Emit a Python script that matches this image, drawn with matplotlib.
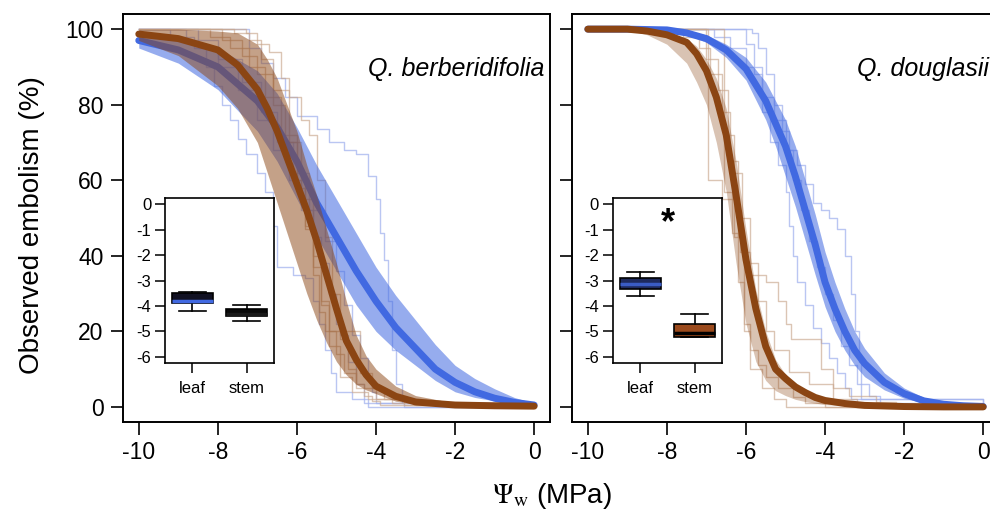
import matplotlib
matplotlib.use("Agg")
import matplotlib.pyplot as plt

plt.rcParams["font.family"] = ["Liberation Sans", "DejaVu Sans"]
plt.rcParams["axes.unicode_minus"] = False
plt.rcParams["mathtext.fontset"] = "stix"

BLUE = "#4169E1"
BROWN = "#8B4513"
LEAF_RUN = "#a3b3ee"
STEM_RUN = "#c9a68c"

# ---- Q. berberidifolia: fitted curves with confidence band ----
psi_ber_leaf = [-10, -9, -8, -7, -6.5, -6, -5.5, -5, -4.5, -4, -3.5, -3, -2.5, -2, -1.5, -1, -0.5, 0]
ber_leaf_fit = [97, 94.5, 90, 81, 74, 65, 54, 45, 36, 28, 21, 15.5, 10, 6.5, 4, 2.3, 1.2, 0.5]
ber_leaf_hi = [99, 98, 95, 89, 83, 74, 64, 55, 46, 37, 29.5, 23, 16.5, 11, 7.5, 4.8, 2.5, 1]
ber_leaf_lo = [95, 91, 84, 73, 65, 55, 45, 36, 27, 20, 15, 11, 7, 4, 2.5, 1.6, 0.8, 0.3]

psi_ber_stem = [-10, -9, -8, -7.5, -7, -6.75, -6.5, -6.25, -6, -5.75, -5.5, -5.25, -5,
                -4.75, -4.5, -4.25, -4, -3.5, -3, -2, -1, 0]
ber_stem_fit = [98.7, 97.5, 94.5, 90.5, 84, 79, 73, 66, 59, 52, 44, 35, 26,
                17.5, 12.5, 8.5, 5.5, 2.8, 1.3, 0.5, 0.3, 0.2]
ber_stem_hi = [100, 100, 99.5, 99, 96, 92, 87, 80, 73, 64, 56, 47, 38,
               28, 19, 13.5, 10, 5.5, 3, 1, 0.5, 0.3]
ber_stem_lo = [97, 93, 85, 79, 70, 62, 54, 46, 38, 30, 23, 17, 12,
               8.5, 6, 4.5, 3.5, 1.5, 0.8, 0.3, 0.2, 0.1]

# individual sample runs (step curves)
ber_leaf_runs = [
    ([-10, -8.5, -8.3, -8.1, -7.9, -7.7, -7.5, -7.3, -7.0, -6.8, -6.6, -6.5, -6.1, -5.8, -5.6, -5.45, -5.3, -5.15, -5.0, -4.6, -4.2, 0],
     [100, 95, 90, 85, 80, 76, 71, 67, 62, 57, 48, 37, 35, 34, 28, 22, 15, 9, 4, 2, 0, 0]),
    ([-10, -7.2, -6.9, -6.6, -6.3, -6.0, -5.5, -5.2, -4.8, -4.5, -4.2, -4.0, -3.9, -3.8, -3.7, -3.6, -3.5, -3.35, 0],
     [100, 95, 91, 87, 82, 77, 73.5, 70, 68, 67, 61, 55, 46, 39, 28, 15, 6, 1, 0]),
    ([-10, -8.8, -8.0, -7.4, -6.9, -6.5, -6.1, -5.7, -5.3, -5.0, -4.8, -4.6, -4.4, -4.2, -4.1, -4.0, -3.3, 0],
     [100, 97, 92, 86, 78, 70, 62, 52, 44, 36, 27, 19, 13, 8, 4, 1, 0, 0]),
    ([-10, -9.2, -8.6, -8.0, -7.5, -7.0, -6.6, -6.2, -5.9, -5.6, -5.4, -5.2, -5.0, -4.9, -4.7, -4.5, -4.3, 0],
     [100, 98, 95, 90, 84, 76, 68, 60, 52, 45, 38, 30, 22, 19, 12, 6, 1, 0]),
]
ber_stem_runs = [
    ([-10, -7.3, -7.0, -6.7, -6.4, -6.2, -5.9, -5.7, -5.5, -5.3, -5.1, -4.9, -4.7, -4.5, -4.3, -4.1, -3.9, 0],
     [100, 99, 96, 94, 87, 82, 76, 72, 60, 45, 30, 18, 10, 6, 3, 1.5, 0.5, 0]),
    ([-10, -8.2, -7.7, -7.2, -6.8, -6.4, -6.0, -5.8, -5.6, -5.45, -5.3, -4.4, -4.1, -3.8, -3.3, 0],
     [100, 98, 95, 90, 82, 72, 60, 48, 35, 25, 20, 9, 5, 2, 0.5, 0]),
    ([-10, -7.9, -7.4, -7.0, -6.6, -6.3, -6.0, -5.8, -5.6, -5.4, -5.2, -5.0, -4.8, -4.5, -4.0, -3.0, 0],
     [100, 97, 93, 88, 80, 70, 58, 47, 37, 28, 20, 14, 9, 5, 2, 0.5, 0]),
    ([-10, -7.6, -7.2, -6.9, -6.6, -6.2, -5.9, -5.6, -5.4, -5.2, -4.9, -4.6, -4.2, -3.6, 0],
     [100, 99, 97, 92, 84, 70, 55, 40, 27, 16, 8, 4, 2, 1, 0]),
]

# ---- Q. douglasii ----
psi_dou_leaf = [-10, -9, -8, -7.5, -7, -6.5, -6, -5.5, -5.25, -5, -4.75, -4.5, -4.25, -4,
                -3.75, -3.5, -3.25, -3, -2.5, -2, -1.5, -1, -0.5, 0]
dou_leaf_fit = [100, 100, 99.8, 99, 97.5, 94.5, 89.5, 81, 75, 69, 61, 52, 43, 33,
                26, 20, 15, 11.5, 6.5, 3.5, 1.6, 0.7, 0.3, 0.1]
dou_leaf_hi = [100, 100, 99.9, 99.5, 98.5, 96, 92.5, 86, 81, 76, 69, 60, 51, 41,
               33, 26, 20, 15.5, 9, 5, 2.5, 1.1, 0.5, 0.2]
dou_leaf_lo = [100, 99.9, 99.5, 98.5, 96.5, 92.5, 86.5, 76, 69, 61, 53, 44, 35, 26.5,
               20, 15, 11, 8, 4.5, 2.3, 1, 0.4, 0.2, 0.05]

psi_dou_stem = [-10, -9, -8.5, -8, -7.5, -7.25, -7, -6.75, -6.5, -6.25, -6, -5.75, -5.5,
                -5.25, -5, -4.75, -4.5, -4.25, -4, -3.5, -3, -2, -1, 0]
dou_stem_fit = [100, 100, 99.5, 98.5, 96.5, 93.5, 89, 82, 72, 56, 39, 26, 16,
                10, 7.5, 5.3, 3.8, 2.5, 1.7, 0.9, 0.4, 0.1, 0, 0]
dou_stem_hi = [100, 100, 99.8, 99, 97.5, 95.5, 92, 87, 79, 65, 47, 31, 20,
               12.5, 8.5, 6, 4.3, 3, 2.2, 1.1, 0.5, 0.1, 0, 0]
dou_stem_lo = [100, 99.8, 98.5, 96, 91, 86, 80, 70, 57, 38, 22, 12, 7,
               4.3, 3, 2, 1.4, 1, 0.6, 0.3, 0.1, 0, 0, 0]

dou_leaf_runs = [
    ([-10, -5.85, -5.7, -5.5, -5.3, -5.1, -4.9, -4.7, -4.5, -4.3, -4.1, -3.9, -3.7, -3.5, -3.35, -3.25, -3.15, -3.1, 0],
     [100, 99, 95, 88, 80, 73, 68, 64, 59, 54, 52, 50, 47, 40, 30, 20, 12, 2, 0]),
    ([-10, -6.0, -5.8, -5.6, -5.4, -5.2, -5.0, -4.9, -4.8, -4.7, -4.5, -4.3, -4.1, -3.9, -3.7, -3.5, -3.35, 0],
     [100, 96, 88, 78, 70, 64, 57, 48, 40, 33, 27, 21, 17, 13, 9, 5, 2, 0]),
    ([-10, -6.8, -6.4, -6.0, -5.6, -5.3, -5.0, -4.8, -4.6, -4.4, -4.2, -4.0, -3.8, -3.6, -3.4, -3.2, -2.9, -2.6, 0],
     [100, 98, 95, 90, 82, 76, 68, 60, 52, 44, 37, 30, 23, 16, 11, 6, 3, 1, 0]),
]
dou_stem_runs = [
    ([-10, -6.95, -6.6, -6.3, -6.15, -5.9, -5.5, -5.2, -5.0, -4.85, -4.1, -3.8, -3.4, -2.7, -2.2, 0],
     [100, 60, 55, 45, 41, 35, 33, 28, 22, 18, 10, 5, 3, 1.3, 0, 0]),
    ([-10, -6.55, -6.35, -6.2, -6.05, -5.9, -5.7, -5.5, -5.2, -4.8, -4.5, -4.0, 0],
     [100, 57, 46, 33, 22, 15, 11, 8, 5, 2.5, 1, 0, 0]),
    ([-10, -7.6, -7.2, -6.9, -6.6, -6.4, -6.2, -6.05, -5.9, -5.6, -5.3, -5.0, 0],
     [100, 98, 95, 88, 78, 65, 45, 20, 10, 5, 2, 0, 0]),
    ([-10, -7.0, -6.7, -6.45, -6.3, -6.1, -5.9, -5.7, -5.5, -5.3, -4.9, -4.4, -3.8, -3.2, 0],
     [100, 92, 84, 72, 62, 50, 38, 28, 20, 15, 9.3, 6, 2, 0, 0]),
]

# ---- inset boxplots: P50 (MPa) ----
box_labels = ["leaf", "stem"]
ber_p50 = [  # whislo, q1, med, q3, whishi
    (-4.2, -3.9, -3.8, -3.5, -3.45),
    (-4.6, -4.4, -4.3, -4.1, -3.95),
]
dou_p50 = [
    (-3.6, -3.35, -3.15, -2.9, -2.65),
    (-5.2, -5.2, -5.05, -4.7, -4.3),
]

fig = plt.figure(figsize=(9.9, 5.18), dpi=100)


def main_panel(rect, leaf, stem, leaf_runs, stem_runs, leaf_alpha, stem_alpha, show_ylabels):
    ax = fig.add_axes(rect)
    for xs, vs in leaf_runs:
        ax.step(xs, vs, where="post", color=LEAF_RUN, lw=1.0, alpha=0.75, zorder=1)
    for xs, vs in stem_runs:
        ax.step(xs, vs, where="post", color=STEM_RUN, lw=1.0, alpha=0.65, zorder=1)
    px, fit, hi, lo = leaf
    ax.fill_between(px, lo, hi, color=BLUE, alpha=leaf_alpha, lw=0, zorder=2)
    ax.plot(px, fit, color=BLUE, lw=5, solid_capstyle="round", zorder=3)
    px, fit, hi, lo = stem
    ax.fill_between(px, lo, hi, color=BROWN, alpha=stem_alpha, lw=0, zorder=4)
    ax.plot(px, fit, color=BROWN, lw=5, solid_capstyle="round", zorder=5)
    ax.set_xlim(-10.4, 0.4)
    ax.set_ylim(-4, 104)
    ax.set_xticks(range(-10, 1, 2))
    ax.set_yticks(range(0, 101, 20))
    if not show_ylabels:
        ax.set_yticklabels([])
    ax.tick_params(length=9, width=1.2, labelsize=16.5, pad=5)
    for s in ax.spines.values():
        s.set_linewidth(1.4)
    return ax


def inset(rect, stats, leaf_face, leaf_med, stem_face, stem_med):
    ax = fig.add_axes(rect)
    bx = [dict(whislo=s[0], q1=s[1], med=s[2], q3=s[3], whishi=s[4], fliers=[]) for s in stats]
    arts = ax.bxp(bx, positions=[1, 2], widths=0.75, patch_artist=True, showfliers=False,
                  boxprops=dict(edgecolor="black", linewidth=1.2),
                  whiskerprops=dict(color="black", linewidth=1.2, linestyle="-"),
                  capprops=dict(color="black", linewidth=1.2),
                  medianprops=dict(linewidth=2.5))
    arts["boxes"][0].set_facecolor(leaf_face)
    arts["boxes"][1].set_facecolor(stem_face)
    arts["medians"][0].set_color(leaf_med)
    arts["medians"][1].set_color(stem_med)
    for c in arts["caps"]:
        xd = c.get_xdata()
        mid = (xd[0] + xd[1]) / 2
        c.set_xdata([mid - 0.25, mid + 0.25])
    ax.set_xlim(0.5, 2.5)
    ax.set_ylim(-6.24, 0.24)
    ax.set_yticks(range(0, -7, -1))
    ax.set_yticklabels([str(v) for v in range(0, -7, -1)])
    ax.set_xticks([1, 2])
    ax.set_xticklabels(box_labels)
    ax.tick_params(length=7, width=1.1, labelsize=12, pad=3)
    ax.tick_params(axis="x", pad=6)
    for s in ax.spines.values():
        s.set_linewidth(1.2)
    return ax


ax1 = main_panel([0.1242, 0.1853, 0.4313, 0.7876],
                 (psi_ber_leaf, ber_leaf_fit, ber_leaf_hi, ber_leaf_lo),
                 (psi_ber_stem, ber_stem_fit, ber_stem_hi, ber_stem_lo),
                 ber_leaf_runs, ber_stem_runs, 0.55, 0.5, True)
ax1.text(0.25, 89.5, "Q. berberidifolia", style="italic", fontsize=18, ha="right", va="center")

ax2 = main_panel([0.5778, 0.1853, 0.4313, 0.7876],
                 (psi_dou_leaf, dou_leaf_fit, dou_leaf_hi, dou_leaf_lo),
                 (psi_dou_stem, dou_stem_fit, dou_stem_hi, dou_stem_lo),
                 dou_leaf_runs, dou_stem_runs, 0.55, 0.32, False)
ax2.text(-3.2, 89.5, "Q. douglasii", style="italic", fontsize=18, ha="left", va="center")

inset([0.1667, 0.2992, 0.1101, 0.3185], ber_p50, "#111122", BLUE, "#0a0a0a", "#1a1a1a")
ins2 = inset([0.6192, 0.2992, 0.1101, 0.3185], dou_p50, "#1e2a5e", "#3a5cc4", "#9b4a1c", "black")
ins2.text(1.5, -0.75, "*", fontsize=26, fontweight="bold", ha="center", va="center")

fig.text(0.032, 0.565, "Observed embolism (%)", rotation=90, fontsize=20, ha="center", va="center")
fig.text(0.558, 0.042, r"$\Psi_\mathrm{w}$ (MPa)", fontsize=20, ha="center", va="center")

fig.savefig("out.png", dpi=100)
